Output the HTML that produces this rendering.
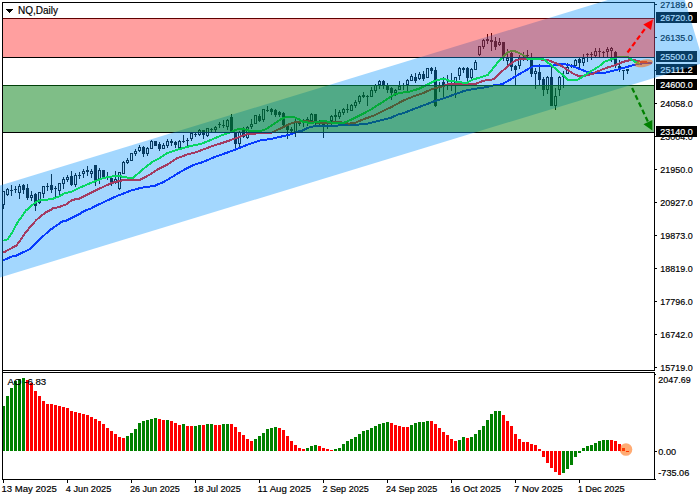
<!DOCTYPE html>
<html lang="en"><head><meta charset="utf-8"><title>NQ,Daily</title>
<style>html,body{margin:0;padding:0;background:#fff;overflow:hidden}svg{display:block}text{font-family:"Liberation Sans", Arial, sans-serif;white-space:pre}</style></head><body>
<svg width="700" height="500" viewBox="0 0 700 500">
<defs><clipPath id="cm"><rect x="3" y="3" width="651" height="367"/></clipPath></defs>
<rect x="0" y="0" width="700" height="500" fill="#fff"/>
<g shape-rendering="crispEdges">
<rect x="2" y="2" width="653" height="1" fill="#000"/>
<rect x="2" y="2" width="1" height="478" fill="#000"/>
<rect x="2" y="370" width="653" height="1" fill="#000"/>
<rect x="2" y="372" width="653" height="1" fill="#000"/>
<rect x="2" y="479" width="654" height="1" fill="#000"/>
<rect x="654" y="2" width="1" height="369" fill="#000"/>
<rect x="654" y="372" width="1" height="108" fill="#000"/>
<rect x="655" y="4" width="2" height="1" fill="#000"/>
<rect x="655" y="37" width="2" height="1" fill="#000"/>
<rect x="655" y="70" width="2" height="1" fill="#000"/>
<rect x="655" y="103" width="2" height="1" fill="#000"/>
<rect x="655" y="136" width="2" height="1" fill="#000"/>
<rect x="655" y="169" width="2" height="1" fill="#000"/>
<rect x="655" y="202" width="2" height="1" fill="#000"/>
<rect x="655" y="235" width="2" height="1" fill="#000"/>
<rect x="655" y="268" width="2" height="1" fill="#000"/>
<rect x="655" y="301" width="2" height="1" fill="#000"/>
<rect x="655" y="334" width="2" height="1" fill="#000"/>
<rect x="655" y="367" width="2" height="1" fill="#000"/>
<rect x="655" y="374" width="1" height="1" fill="#000"/>
<rect x="655" y="451" width="2" height="1" fill="#000"/>
<rect x="3" y="480" width="1" height="3" fill="#000"/>
<rect x="67" y="480" width="1" height="3" fill="#000"/>
<rect x="131" y="480" width="1" height="3" fill="#000"/>
<rect x="195" y="480" width="1" height="3" fill="#000"/>
<rect x="259" y="480" width="1" height="3" fill="#000"/>
<rect x="323" y="480" width="1" height="3" fill="#000"/>
<rect x="387" y="480" width="1" height="3" fill="#000"/>
<rect x="451" y="480" width="1" height="3" fill="#000"/>
<rect x="515" y="480" width="1" height="3" fill="#000"/>
<rect x="579" y="480" width="1" height="3" fill="#000"/>
</g>
<g shape-rendering="crispEdges" clip-path="url(#cm)">
<rect x="3" y="191" width="1" height="18" fill="#000"/>
<rect x="2" y="191" width="3" height="14" fill="#000"/>
<rect x="3" y="192" width="1" height="12" fill="#fff"/>
<rect x="7" y="188" width="1" height="8" fill="#000"/>
<rect x="6" y="189" width="3" height="6" fill="#000"/>
<rect x="7" y="190" width="1" height="4" fill="#fff"/>
<rect x="11" y="185" width="1" height="11" fill="#000"/>
<rect x="10" y="190" width="3" height="1" fill="#000"/>
<rect x="15" y="186" width="1" height="7" fill="#000"/>
<rect x="14" y="189" width="3" height="1" fill="#000"/>
<rect x="19" y="184" width="1" height="15" fill="#000"/>
<rect x="18" y="186" width="3" height="7" fill="#000"/>
<rect x="19" y="187" width="1" height="5" fill="#fff"/>
<rect x="23" y="184" width="1" height="10" fill="#000"/>
<rect x="22" y="185" width="3" height="5" fill="#000"/>
<rect x="27" y="184" width="1" height="16" fill="#000"/>
<rect x="26" y="188" width="3" height="10" fill="#000"/>
<rect x="31" y="191" width="1" height="10" fill="#000"/>
<rect x="30" y="195" width="3" height="3" fill="#000"/>
<rect x="31" y="196" width="1" height="1" fill="#fff"/>
<rect x="35" y="193" width="1" height="18" fill="#000"/>
<rect x="34" y="194" width="3" height="12" fill="#000"/>
<rect x="39" y="192" width="1" height="12" fill="#000"/>
<rect x="38" y="192" width="3" height="11" fill="#000"/>
<rect x="39" y="193" width="1" height="9" fill="#fff"/>
<rect x="43" y="186" width="1" height="12" fill="#000"/>
<rect x="42" y="186" width="3" height="8" fill="#000"/>
<rect x="43" y="187" width="1" height="6" fill="#fff"/>
<rect x="47" y="183" width="1" height="8" fill="#000"/>
<rect x="46" y="186" width="3" height="1" fill="#000"/>
<rect x="51" y="174" width="1" height="19" fill="#000"/>
<rect x="50" y="185" width="3" height="5" fill="#000"/>
<rect x="55" y="186" width="1" height="11" fill="#000"/>
<rect x="54" y="188" width="3" height="1" fill="#000"/>
<rect x="59" y="183" width="1" height="12" fill="#000"/>
<rect x="58" y="183" width="3" height="8" fill="#000"/>
<rect x="59" y="184" width="1" height="6" fill="#fff"/>
<rect x="63" y="177" width="1" height="12" fill="#000"/>
<rect x="62" y="179" width="3" height="5" fill="#000"/>
<rect x="63" y="180" width="1" height="3" fill="#fff"/>
<rect x="67" y="175" width="1" height="7" fill="#000"/>
<rect x="66" y="177" width="3" height="3" fill="#000"/>
<rect x="67" y="178" width="1" height="1" fill="#fff"/>
<rect x="71" y="171" width="1" height="15" fill="#000"/>
<rect x="70" y="176" width="3" height="9" fill="#000"/>
<rect x="75" y="173" width="1" height="14" fill="#000"/>
<rect x="74" y="175" width="3" height="10" fill="#000"/>
<rect x="75" y="176" width="1" height="8" fill="#fff"/>
<rect x="79" y="172" width="1" height="7" fill="#000"/>
<rect x="78" y="175" width="3" height="1" fill="#000"/>
<rect x="83" y="169" width="1" height="9" fill="#000"/>
<rect x="82" y="171" width="3" height="3" fill="#000"/>
<rect x="83" y="172" width="1" height="1" fill="#fff"/>
<rect x="87" y="166" width="1" height="10" fill="#000"/>
<rect x="86" y="170" width="3" height="2" fill="#000"/>
<rect x="91" y="169" width="1" height="9" fill="#000"/>
<rect x="90" y="171" width="3" height="3" fill="#000"/>
<rect x="91" y="172" width="1" height="1" fill="#fff"/>
<rect x="95" y="165" width="1" height="21" fill="#000"/>
<rect x="94" y="165" width="3" height="15" fill="#000"/>
<rect x="99" y="168" width="1" height="16" fill="#000"/>
<rect x="98" y="170" width="3" height="9" fill="#000"/>
<rect x="99" y="171" width="1" height="7" fill="#fff"/>
<rect x="103" y="170" width="1" height="8" fill="#000"/>
<rect x="102" y="170" width="3" height="7" fill="#000"/>
<rect x="107" y="172" width="1" height="8" fill="#000"/>
<rect x="106" y="176" width="3" height="1" fill="#000"/>
<rect x="111" y="178" width="1" height="8" fill="#000"/>
<rect x="110" y="178" width="3" height="5" fill="#000"/>
<rect x="115" y="171" width="1" height="13" fill="#000"/>
<rect x="114" y="179" width="3" height="3" fill="#000"/>
<rect x="115" y="180" width="1" height="1" fill="#fff"/>
<rect x="119" y="172" width="1" height="18" fill="#000"/>
<rect x="118" y="172" width="3" height="17" fill="#000"/>
<rect x="119" y="173" width="1" height="15" fill="#fff"/>
<rect x="123" y="161" width="1" height="13" fill="#000"/>
<rect x="122" y="162" width="3" height="12" fill="#000"/>
<rect x="123" y="163" width="1" height="10" fill="#fff"/>
<rect x="127" y="158" width="1" height="6" fill="#000"/>
<rect x="126" y="160" width="3" height="3" fill="#000"/>
<rect x="127" y="161" width="1" height="1" fill="#fff"/>
<rect x="131" y="153" width="1" height="8" fill="#000"/>
<rect x="130" y="153" width="3" height="8" fill="#000"/>
<rect x="131" y="154" width="1" height="6" fill="#fff"/>
<rect x="135" y="149" width="1" height="7" fill="#000"/>
<rect x="134" y="151" width="3" height="3" fill="#000"/>
<rect x="135" y="152" width="1" height="1" fill="#fff"/>
<rect x="139" y="145" width="1" height="7" fill="#000"/>
<rect x="138" y="147" width="3" height="4" fill="#000"/>
<rect x="139" y="148" width="1" height="2" fill="#fff"/>
<rect x="143" y="146" width="1" height="11" fill="#000"/>
<rect x="142" y="147" width="3" height="7" fill="#000"/>
<rect x="147" y="147" width="1" height="9" fill="#000"/>
<rect x="146" y="148" width="3" height="6" fill="#000"/>
<rect x="147" y="149" width="1" height="4" fill="#fff"/>
<rect x="151" y="140" width="1" height="9" fill="#000"/>
<rect x="150" y="141" width="3" height="8" fill="#000"/>
<rect x="151" y="142" width="1" height="6" fill="#fff"/>
<rect x="155" y="141" width="1" height="5" fill="#000"/>
<rect x="154" y="141" width="3" height="5" fill="#000"/>
<rect x="159" y="142" width="1" height="9" fill="#000"/>
<rect x="158" y="144" width="3" height="5" fill="#000"/>
<rect x="163" y="143" width="1" height="6" fill="#000"/>
<rect x="162" y="145" width="3" height="4" fill="#000"/>
<rect x="163" y="146" width="1" height="2" fill="#fff"/>
<rect x="167" y="139" width="1" height="9" fill="#000"/>
<rect x="166" y="141" width="3" height="5" fill="#000"/>
<rect x="167" y="142" width="1" height="3" fill="#fff"/>
<rect x="171" y="139" width="1" height="7" fill="#000"/>
<rect x="170" y="141" width="3" height="2" fill="#000"/>
<rect x="175" y="141" width="1" height="7" fill="#000"/>
<rect x="174" y="142" width="3" height="3" fill="#000"/>
<rect x="179" y="140" width="1" height="9" fill="#000"/>
<rect x="178" y="141" width="3" height="7" fill="#000"/>
<rect x="179" y="142" width="1" height="5" fill="#fff"/>
<rect x="183" y="135" width="1" height="8" fill="#000"/>
<rect x="182" y="141" width="3" height="1" fill="#000"/>
<rect x="187" y="138" width="1" height="8" fill="#000"/>
<rect x="186" y="140" width="3" height="1" fill="#000"/>
<rect x="191" y="133" width="1" height="8" fill="#000"/>
<rect x="190" y="133" width="3" height="6" fill="#000"/>
<rect x="191" y="134" width="1" height="4" fill="#fff"/>
<rect x="195" y="133" width="1" height="4" fill="#000"/>
<rect x="194" y="134" width="3" height="1" fill="#000"/>
<rect x="199" y="129" width="1" height="7" fill="#000"/>
<rect x="198" y="130" width="3" height="5" fill="#000"/>
<rect x="199" y="131" width="1" height="3" fill="#fff"/>
<rect x="203" y="130" width="1" height="9" fill="#000"/>
<rect x="202" y="130" width="3" height="5" fill="#000"/>
<rect x="207" y="128" width="1" height="9" fill="#000"/>
<rect x="206" y="128" width="3" height="8" fill="#000"/>
<rect x="207" y="129" width="1" height="6" fill="#fff"/>
<rect x="211" y="128" width="1" height="4" fill="#000"/>
<rect x="210" y="129" width="3" height="1" fill="#000"/>
<rect x="215" y="126" width="1" height="6" fill="#000"/>
<rect x="214" y="127" width="3" height="3" fill="#000"/>
<rect x="215" y="128" width="1" height="1" fill="#fff"/>
<rect x="219" y="122" width="1" height="6" fill="#000"/>
<rect x="218" y="124" width="3" height="1" fill="#000"/>
<rect x="223" y="120" width="1" height="8" fill="#000"/>
<rect x="222" y="125" width="3" height="1" fill="#000"/>
<rect x="227" y="119" width="1" height="11" fill="#000"/>
<rect x="226" y="120" width="3" height="7" fill="#000"/>
<rect x="227" y="121" width="1" height="5" fill="#fff"/>
<rect x="231" y="114" width="1" height="17" fill="#000"/>
<rect x="230" y="117" width="3" height="14" fill="#000"/>
<rect x="235" y="132" width="1" height="16" fill="#000"/>
<rect x="234" y="132" width="3" height="12" fill="#000"/>
<rect x="239" y="131" width="1" height="16" fill="#000"/>
<rect x="238" y="132" width="3" height="12" fill="#000"/>
<rect x="239" y="133" width="1" height="10" fill="#fff"/>
<rect x="243" y="127" width="1" height="11" fill="#000"/>
<rect x="242" y="129" width="3" height="8" fill="#000"/>
<rect x="247" y="126" width="1" height="13" fill="#000"/>
<rect x="246" y="127" width="3" height="11" fill="#000"/>
<rect x="247" y="128" width="1" height="9" fill="#fff"/>
<rect x="251" y="119" width="1" height="10" fill="#000"/>
<rect x="250" y="124" width="3" height="3" fill="#000"/>
<rect x="251" y="125" width="1" height="1" fill="#fff"/>
<rect x="255" y="115" width="1" height="9" fill="#000"/>
<rect x="254" y="115" width="3" height="9" fill="#000"/>
<rect x="255" y="116" width="1" height="7" fill="#fff"/>
<rect x="259" y="114" width="1" height="8" fill="#000"/>
<rect x="258" y="116" width="3" height="5" fill="#000"/>
<rect x="263" y="109" width="1" height="13" fill="#000"/>
<rect x="262" y="109" width="3" height="11" fill="#000"/>
<rect x="263" y="110" width="1" height="9" fill="#fff"/>
<rect x="267" y="106" width="1" height="6" fill="#000"/>
<rect x="266" y="110" width="3" height="1" fill="#000"/>
<rect x="271" y="108" width="1" height="7" fill="#000"/>
<rect x="270" y="109" width="3" height="3" fill="#000"/>
<rect x="275" y="109" width="1" height="8" fill="#000"/>
<rect x="274" y="110" width="3" height="5" fill="#000"/>
<rect x="279" y="111" width="1" height="6" fill="#000"/>
<rect x="278" y="112" width="3" height="3" fill="#000"/>
<rect x="283" y="112" width="1" height="14" fill="#000"/>
<rect x="282" y="113" width="3" height="12" fill="#000"/>
<rect x="287" y="124" width="1" height="15" fill="#000"/>
<rect x="286" y="126" width="3" height="4" fill="#000"/>
<rect x="291" y="127" width="1" height="5" fill="#000"/>
<rect x="290" y="129" width="3" height="2" fill="#000"/>
<rect x="295" y="119" width="1" height="18" fill="#000"/>
<rect x="294" y="121" width="3" height="11" fill="#000"/>
<rect x="295" y="122" width="1" height="9" fill="#fff"/>
<rect x="299" y="121" width="1" height="5" fill="#000"/>
<rect x="298" y="122" width="3" height="2" fill="#000"/>
<rect x="303" y="119" width="1" height="8" fill="#000"/>
<rect x="302" y="120" width="3" height="2" fill="#000"/>
<rect x="307" y="117" width="1" height="9" fill="#000"/>
<rect x="306" y="119" width="3" height="2" fill="#000"/>
<rect x="311" y="113" width="1" height="9" fill="#000"/>
<rect x="310" y="114" width="3" height="7" fill="#000"/>
<rect x="311" y="115" width="1" height="5" fill="#fff"/>
<rect x="315" y="114" width="1" height="12" fill="#000"/>
<rect x="314" y="114" width="3" height="8" fill="#000"/>
<rect x="319" y="120" width="1" height="6" fill="#000"/>
<rect x="318" y="123" width="3" height="1" fill="#000"/>
<rect x="323" y="122" width="1" height="16" fill="#000"/>
<rect x="322" y="123" width="3" height="3" fill="#000"/>
<rect x="327" y="122" width="1" height="7" fill="#000"/>
<rect x="326" y="123" width="3" height="1" fill="#000"/>
<rect x="331" y="115" width="1" height="11" fill="#000"/>
<rect x="330" y="116" width="3" height="5" fill="#000"/>
<rect x="331" y="117" width="1" height="3" fill="#fff"/>
<rect x="335" y="109" width="1" height="12" fill="#000"/>
<rect x="334" y="115" width="3" height="2" fill="#000"/>
<rect x="339" y="110" width="1" height="9" fill="#000"/>
<rect x="338" y="112" width="3" height="5" fill="#000"/>
<rect x="339" y="113" width="1" height="3" fill="#fff"/>
<rect x="343" y="108" width="1" height="7" fill="#000"/>
<rect x="342" y="109" width="3" height="4" fill="#000"/>
<rect x="343" y="110" width="1" height="2" fill="#fff"/>
<rect x="347" y="104" width="1" height="9" fill="#000"/>
<rect x="346" y="109" width="3" height="1" fill="#000"/>
<rect x="351" y="104" width="1" height="7" fill="#000"/>
<rect x="350" y="105" width="3" height="6" fill="#000"/>
<rect x="351" y="106" width="1" height="4" fill="#fff"/>
<rect x="355" y="100" width="1" height="8" fill="#000"/>
<rect x="354" y="102" width="3" height="4" fill="#000"/>
<rect x="355" y="103" width="1" height="2" fill="#fff"/>
<rect x="359" y="95" width="1" height="9" fill="#000"/>
<rect x="358" y="96" width="3" height="6" fill="#000"/>
<rect x="359" y="97" width="1" height="4" fill="#fff"/>
<rect x="363" y="92" width="1" height="6" fill="#000"/>
<rect x="362" y="95" width="3" height="2" fill="#000"/>
<rect x="367" y="95" width="1" height="11" fill="#000"/>
<rect x="366" y="96" width="3" height="1" fill="#000"/>
<rect x="371" y="87" width="1" height="10" fill="#000"/>
<rect x="370" y="90" width="3" height="7" fill="#000"/>
<rect x="371" y="91" width="1" height="5" fill="#fff"/>
<rect x="375" y="84" width="1" height="9" fill="#000"/>
<rect x="374" y="85" width="3" height="6" fill="#000"/>
<rect x="375" y="86" width="1" height="4" fill="#fff"/>
<rect x="379" y="80" width="1" height="9" fill="#000"/>
<rect x="378" y="81" width="3" height="4" fill="#000"/>
<rect x="379" y="82" width="1" height="2" fill="#fff"/>
<rect x="383" y="80" width="1" height="9" fill="#000"/>
<rect x="382" y="81" width="3" height="4" fill="#000"/>
<rect x="387" y="83" width="1" height="10" fill="#000"/>
<rect x="386" y="85" width="3" height="5" fill="#000"/>
<rect x="391" y="87" width="1" height="13" fill="#000"/>
<rect x="390" y="88" width="3" height="5" fill="#000"/>
<rect x="395" y="89" width="1" height="7" fill="#000"/>
<rect x="394" y="90" width="3" height="3" fill="#000"/>
<rect x="395" y="91" width="1" height="1" fill="#fff"/>
<rect x="399" y="81" width="1" height="9" fill="#000"/>
<rect x="398" y="86" width="3" height="4" fill="#000"/>
<rect x="399" y="87" width="1" height="2" fill="#fff"/>
<rect x="403" y="83" width="1" height="7" fill="#000"/>
<rect x="402" y="85" width="3" height="1" fill="#000"/>
<rect x="407" y="79" width="1" height="13" fill="#000"/>
<rect x="406" y="80" width="3" height="5" fill="#000"/>
<rect x="407" y="81" width="1" height="3" fill="#fff"/>
<rect x="411" y="74" width="1" height="7" fill="#000"/>
<rect x="410" y="76" width="3" height="5" fill="#000"/>
<rect x="411" y="77" width="1" height="3" fill="#fff"/>
<rect x="415" y="73" width="1" height="10" fill="#000"/>
<rect x="414" y="77" width="3" height="4" fill="#000"/>
<rect x="419" y="72" width="1" height="8" fill="#000"/>
<rect x="418" y="74" width="3" height="5" fill="#000"/>
<rect x="419" y="75" width="1" height="3" fill="#fff"/>
<rect x="423" y="71" width="1" height="10" fill="#000"/>
<rect x="422" y="74" width="3" height="5" fill="#000"/>
<rect x="479" y="46" width="1" height="10" fill="#000"/>
<rect x="478" y="46" width="3" height="9" fill="#000"/>
<rect x="479" y="47" width="1" height="7" fill="#fff"/>
<rect x="483" y="39" width="1" height="10" fill="#000"/>
<rect x="482" y="40" width="3" height="7" fill="#000"/>
<rect x="483" y="41" width="1" height="5" fill="#fff"/>
<rect x="487" y="34" width="1" height="10" fill="#000"/>
<rect x="486" y="39" width="3" height="2" fill="#000"/>
<rect x="491" y="33" width="1" height="18" fill="#000"/>
<rect x="490" y="40" width="3" height="2" fill="#000"/>
<rect x="495" y="37" width="1" height="13" fill="#000"/>
<rect x="494" y="41" width="3" height="6" fill="#000"/>
<rect x="499" y="38" width="1" height="8" fill="#000"/>
<rect x="498" y="42" width="3" height="3" fill="#000"/>
<rect x="499" y="43" width="1" height="1" fill="#fff"/>
<rect x="427" y="68" width="1" height="10" fill="#000"/>
<rect x="426" y="68" width="3" height="10" fill="#000"/>
<rect x="427" y="69" width="1" height="8" fill="#fff"/>
<rect x="431" y="67" width="1" height="7" fill="#000"/>
<rect x="430" y="68" width="3" height="3" fill="#000"/>
<rect x="435" y="67" width="1" height="40" fill="#000"/>
<rect x="434" y="70" width="3" height="36" fill="#000"/>
<rect x="439" y="82" width="1" height="10" fill="#000"/>
<rect x="443" y="77" width="1" height="20" fill="#000"/>
<rect x="442" y="82" width="3" height="3" fill="#000"/>
<rect x="447" y="75" width="1" height="15" fill="#000"/>
<rect x="451" y="73" width="1" height="18" fill="#000"/>
<rect x="455" y="77" width="1" height="21" fill="#000"/>
<rect x="454" y="77" width="3" height="7" fill="#000"/>
<rect x="455" y="78" width="1" height="5" fill="#fff"/>
<rect x="459" y="67" width="1" height="13" fill="#000"/>
<rect x="458" y="68" width="3" height="8" fill="#000"/>
<rect x="459" y="69" width="1" height="6" fill="#fff"/>
<rect x="463" y="67" width="1" height="6" fill="#000"/>
<rect x="462" y="68" width="3" height="2" fill="#000"/>
<rect x="467" y="67" width="1" height="15" fill="#000"/>
<rect x="466" y="68" width="3" height="10" fill="#000"/>
<rect x="471" y="68" width="1" height="12" fill="#000"/>
<rect x="470" y="69" width="3" height="9" fill="#000"/>
<rect x="471" y="70" width="1" height="7" fill="#fff"/>
<rect x="475" y="60" width="1" height="10" fill="#000"/>
<rect x="474" y="62" width="3" height="8" fill="#000"/>
<rect x="475" y="63" width="1" height="6" fill="#fff"/>
<rect x="503" y="42" width="1" height="19" fill="#000"/>
<rect x="502" y="42" width="3" height="16" fill="#000"/>
<rect x="507" y="49" width="1" height="16" fill="#000"/>
<rect x="506" y="58" width="3" height="3" fill="#000"/>
<rect x="507" y="59" width="1" height="1" fill="#fff"/>
<rect x="511" y="52" width="1" height="19" fill="#000"/>
<rect x="510" y="53" width="3" height="14" fill="#000"/>
<rect x="515" y="65" width="1" height="21" fill="#000"/>
<rect x="514" y="66" width="3" height="4" fill="#000"/>
<rect x="519" y="55" width="1" height="14" fill="#000"/>
<rect x="518" y="58" width="3" height="8" fill="#000"/>
<rect x="519" y="59" width="1" height="6" fill="#fff"/>
<rect x="523" y="52" width="1" height="9" fill="#000"/>
<rect x="522" y="55" width="3" height="1" fill="#000"/>
<rect x="527" y="50" width="1" height="11" fill="#000"/>
<rect x="526" y="55" width="3" height="1" fill="#000"/>
<rect x="571" y="64" width="1" height="4" fill="#000"/>
<rect x="570" y="65" width="3" height="1" fill="#000"/>
<rect x="575" y="59" width="1" height="7" fill="#000"/>
<rect x="574" y="60" width="3" height="6" fill="#000"/>
<rect x="575" y="61" width="1" height="4" fill="#fff"/>
<rect x="579" y="58" width="1" height="10" fill="#000"/>
<rect x="578" y="59" width="3" height="4" fill="#000"/>
<rect x="583" y="54" width="1" height="12" fill="#000"/>
<rect x="582" y="58" width="3" height="5" fill="#000"/>
<rect x="583" y="59" width="1" height="3" fill="#fff"/>
<rect x="531" y="53" width="1" height="24" fill="#000"/>
<rect x="530" y="60" width="3" height="14" fill="#000"/>
<rect x="535" y="68" width="1" height="21" fill="#000"/>
<rect x="534" y="71" width="3" height="3" fill="#000"/>
<rect x="535" y="72" width="1" height="1" fill="#fff"/>
<rect x="539" y="64" width="1" height="21" fill="#000"/>
<rect x="538" y="72" width="3" height="8" fill="#000"/>
<rect x="543" y="77" width="1" height="19" fill="#000"/>
<rect x="542" y="79" width="3" height="11" fill="#000"/>
<rect x="547" y="76" width="1" height="18" fill="#000"/>
<rect x="546" y="77" width="3" height="13" fill="#000"/>
<rect x="547" y="78" width="1" height="11" fill="#fff"/>
<rect x="551" y="65" width="1" height="41" fill="#000"/>
<rect x="550" y="77" width="3" height="29" fill="#000"/>
<rect x="555" y="88" width="1" height="22" fill="#000"/>
<rect x="554" y="96" width="3" height="10" fill="#000"/>
<rect x="555" y="97" width="1" height="8" fill="#fff"/>
<rect x="559" y="76" width="1" height="20" fill="#000"/>
<rect x="558" y="77" width="3" height="13" fill="#000"/>
<rect x="559" y="78" width="1" height="11" fill="#fff"/>
<rect x="563" y="71" width="1" height="17" fill="#000"/>
<rect x="562" y="76" width="3" height="1" fill="#000"/>
<rect x="567" y="63" width="1" height="11" fill="#000"/>
<rect x="566" y="67" width="3" height="7" fill="#000"/>
<rect x="567" y="68" width="1" height="5" fill="#fff"/>
<rect x="587" y="53" width="1" height="9" fill="#000"/>
<rect x="586" y="54" width="3" height="1" fill="#000"/>
<rect x="591" y="52" width="1" height="8" fill="#000"/>
<rect x="590" y="54" width="3" height="1" fill="#000"/>
<rect x="595" y="48" width="1" height="9" fill="#000"/>
<rect x="594" y="51" width="3" height="5" fill="#000"/>
<rect x="595" y="52" width="1" height="3" fill="#fff"/>
<rect x="599" y="48" width="1" height="9" fill="#000"/>
<rect x="598" y="51" width="3" height="1" fill="#000"/>
<rect x="603" y="51" width="1" height="6" fill="#000"/>
<rect x="602" y="52" width="3" height="1" fill="#000"/>
<rect x="607" y="47" width="1" height="10" fill="#000"/>
<rect x="606" y="49" width="3" height="3" fill="#000"/>
<rect x="607" y="50" width="1" height="1" fill="#fff"/>
<rect x="611" y="47" width="1" height="15" fill="#000"/>
<rect x="610" y="48" width="3" height="3" fill="#000"/>
<rect x="611" y="49" width="1" height="1" fill="#fff"/>
<rect x="615" y="51" width="1" height="17" fill="#000"/>
<rect x="614" y="52" width="3" height="12" fill="#000"/>
<rect x="619" y="60" width="1" height="12" fill="#000"/>
<rect x="618" y="66" width="3" height="4" fill="#000"/>
<rect x="623" y="70" width="1" height="10" fill="#000"/>
<rect x="622" y="70" width="3" height="1" fill="#000"/>
<rect x="627" y="69" width="1" height="5" fill="#000"/>
<rect x="626" y="69" width="3" height="2" fill="#000"/>
</g>
<g clip-path="url(#cm)" shape-rendering="crispEdges">
<polyline points="3.4,260.3 12.0,256.4 16.3,255.7 30.6,248.6 39.1,240.0 49.1,230.7 63.4,220.7 66.3,220.7 73.4,217.1 79.1,214.3 83.4,211.4 84.9,210.7 90.6,208.6 96.3,205.7 102.0,202.9 117.0,196.0 130.6,190.7 140.6,187.9 154.9,185.7 163.4,182.1 170.6,177.9 176.3,174.3 184.9,169.3 193.4,165.0 202.0,162.4 216.3,156.4 230.6,151.4 244.9,145.7 259.1,140.7 270.6,139.0 282.0,136.4 290.6,134.3 296.3,131.9 302.0,130.7 307.7,127.9 313.4,126.4 330.6,126.0 344.9,125.0 364.9,124.3 373.4,122.1 382.0,120.0 390.6,117.9 399.1,114.0 402.0,113.6 434.9,101.0 444.9,97.9 454.9,94.3 464.9,90.7 476.3,88.6 486.3,87.1 494.9,85.0 502.0,84.3 510.6,79.3 519.1,74.3 527.7,69.3 533.4,66.4 550.6,66.1 562.0,63.6 573.4,66.4 582.0,70.0 586.0,71.5 590.6,72.9 599.0,73.5 606.0,72.5 616.0,70.0 626.0,67.2 634.0,65.0 638.0,64.0 644.0,63.2 651.8,62.8" fill="none" stroke="#0000ff" stroke-width="2" stroke-linejoin="round" stroke-linecap="butt"/>
<polyline points="3.4,252.6 10.6,248.6 16.3,245.7 20.6,240.0 24.9,233.6 30.6,226.4 36.3,220.0 44.9,212.9 44.9,212.9 50.6,210.0 52.0,208.6 59.1,207.1 66.3,204.3 72.0,200.0 79.1,198.6 87.7,194.3 94.9,190.7 102.0,187.4 112.0,182.9 123.4,180.0 140.6,179.6 149.1,175.0 159.1,168.6 167.7,164.3 176.3,158.6 187.7,154.3 196.3,152.1 202.0,150.0 213.4,145.7 224.9,142.1 234.9,138.6 243.4,135.4 249.1,133.6 270.6,133.3 276.3,130.4 283.4,127.1 289.1,124.3 294.9,122.1 302.0,121.4 309.1,121.4 319.1,123.1 330.6,122.6 339.1,122.1 349.1,123.6 354.9,122.9 363.4,119.3 373.4,115.7 382.0,111.4 390.6,107.4 397.7,103.6 402.0,101.1 413.4,96.4 423.4,92.9 433.4,88.6 442.0,86.4 449.1,84.0 466.3,84.3 476.3,83.6 483.4,80.7 493.4,79.3 499.1,74.3 502.0,71.4 509.1,65.0 516.3,60.0 522.0,59.0 530.6,59.3 546.3,59.6 556.3,63.3 564.9,67.9 572.0,72.9 577.7,75.7 584.9,75.7 593.4,73.6 596.0,72.0 606.0,68.0 614.0,65.5 620.0,63.0 626.0,61.0 631.0,60.0 636.0,60.5 642.0,62.0 647.5,62.6" fill="none" stroke="#ff0000" stroke-width="2" stroke-linejoin="round" stroke-linecap="butt"/>
<polyline points="3.4,240.7 7.7,239.3 12.0,232.9 17.7,222.1 23.4,214.3 26.3,210.0 27.0,210.0 35.6,202.1 40.6,200.0 51.3,199.3 59.1,196.4 64.9,192.9 70.6,192.1 79.1,187.9 87.7,184.3 94.9,181.4 102.0,178.6 109.1,176.7 119.1,176.1 127.7,177.6 133.4,177.6 142.0,170.0 152.0,162.1 159.1,158.6 166.3,153.6 176.3,150.0 187.7,146.7 202.0,143.6 210.6,140.0 220.6,135.7 230.6,132.4 236.3,129.6 242.0,128.7 249.1,130.7 259.1,131.4 266.3,129.0 273.4,124.3 280.6,119.3 286.3,117.1 293.4,116.9 299.1,119.3 302.0,121.4 310.6,123.1 317.7,121.7 324.9,121.1 333.4,123.1 343.4,122.9 352.0,119.3 362.0,114.3 370.6,109.7 379.1,104.3 387.7,98.6 394.9,94.3 402.0,92.6 410.6,91.4 419.1,88.6 427.7,84.3 434.9,80.7 443.4,78.6 449.1,80.7 459.1,82.1 466.3,83.1 473.4,79.3 480.6,77.4 487.7,75.0 493.4,67.9 499.1,60.7 502.0,58.6 507.7,52.1 513.4,50.7 519.1,52.9 524.9,56.1 527.7,59.0 543.4,59.0 549.1,63.6 556.3,69.3 562.0,74.3 567.7,80.0 576.3,80.4 582.0,77.1 590.6,71.4 599.1,66.4 604.0,62.0 612.0,59.0 619.0,56.8 627.0,56.8 631.0,59.0 635.0,62.0 640.0,63.8" fill="none" stroke="#00ff00" stroke-width="2" stroke-linejoin="round" stroke-linecap="butt"/>
</g>
<g shape-rendering="crispEdges">
<rect x="3" y="18" width="651" height="1" fill="#000"/>
<rect x="3" y="57" width="651" height="1" fill="#000"/>
<rect x="3" y="85" width="651" height="1" fill="#000"/>
<rect x="3" y="132" width="651" height="1" fill="#000"/>
</g>
<path d="M6 9h7v1h-1v1h-1v1h-1v1h-1v-1h-1v-1h-1v-1h-1z" fill="#000" shape-rendering="crispEdges"/>
<text x="18" y="14.4" font-size="10" fill="#000" stroke="#000" stroke-width="0.18" textLength="40" lengthAdjust="spacingAndGlyphs">NQ,Daily</text>
<text x="660.3" y="8" font-size="9.5" fill="#000" stroke="#000" stroke-width="0.18" textLength="32.4" lengthAdjust="spacingAndGlyphs">27189.0</text>
<text x="660.3" y="41" font-size="9.5" fill="#000" stroke="#000" stroke-width="0.18" textLength="32.4" lengthAdjust="spacingAndGlyphs">26135.0</text>
<text x="660.3" y="74" font-size="9.5" fill="#000" stroke="#000" stroke-width="0.18" textLength="32.4" lengthAdjust="spacingAndGlyphs">25081.0</text>
<text x="660.3" y="107" font-size="9.5" fill="#000" stroke="#000" stroke-width="0.18" textLength="32.4" lengthAdjust="spacingAndGlyphs">24058.0</text>
<text x="660.3" y="140" font-size="9.5" fill="#000" stroke="#000" stroke-width="0.18" textLength="32.4" lengthAdjust="spacingAndGlyphs">23004.0</text>
<text x="660.3" y="173" font-size="9.5" fill="#000" stroke="#000" stroke-width="0.18" textLength="32.4" lengthAdjust="spacingAndGlyphs">21950.0</text>
<text x="660.3" y="206" font-size="9.5" fill="#000" stroke="#000" stroke-width="0.18" textLength="32.4" lengthAdjust="spacingAndGlyphs">20927.0</text>
<text x="660.3" y="239" font-size="9.5" fill="#000" stroke="#000" stroke-width="0.18" textLength="32.4" lengthAdjust="spacingAndGlyphs">19873.0</text>
<text x="660.3" y="272" font-size="9.5" fill="#000" stroke="#000" stroke-width="0.18" textLength="32.4" lengthAdjust="spacingAndGlyphs">18819.0</text>
<text x="660.3" y="305" font-size="9.5" fill="#000" stroke="#000" stroke-width="0.18" textLength="32.4" lengthAdjust="spacingAndGlyphs">17796.0</text>
<text x="660.3" y="338" font-size="9.5" fill="#000" stroke="#000" stroke-width="0.18" textLength="32.4" lengthAdjust="spacingAndGlyphs">16742.0</text>
<text x="660.3" y="371" font-size="9.5" fill="#000" stroke="#000" stroke-width="0.18" textLength="32.4" lengthAdjust="spacingAndGlyphs">15719.0</text>
<text x="658.3" y="383" font-size="9.5" fill="#000" stroke="#000" stroke-width="0.18" textLength="32.4" lengthAdjust="spacingAndGlyphs">2047.69</text>
<text x="658.3" y="455" font-size="9.5" fill="#000" stroke="#000" stroke-width="0.18" textLength="17.7" lengthAdjust="spacingAndGlyphs">0.00</text>
<text x="658.3" y="476" font-size="9.5" fill="#000" stroke="#000" stroke-width="0.18" textLength="31" lengthAdjust="spacingAndGlyphs">-735.06</text>
<text x="1.5" y="492" font-size="9.5" fill="#000" stroke="#000" stroke-width="0.18" textLength="55.3" lengthAdjust="spacingAndGlyphs">13 May 2025</text>
<text x="65.7" y="492" font-size="9.5" fill="#000" stroke="#000" stroke-width="0.18" textLength="45.7" lengthAdjust="spacingAndGlyphs">4 Jun 2025</text>
<text x="129.9" y="492" font-size="9.5" fill="#000" stroke="#000" stroke-width="0.18" textLength="49.9" lengthAdjust="spacingAndGlyphs">26 Jun 2025</text>
<text x="193.5" y="492" font-size="9.5" fill="#000" stroke="#000" stroke-width="0.18" textLength="47.3" lengthAdjust="spacingAndGlyphs">18 Jul 2025</text>
<text x="257.5" y="492" font-size="9.5" fill="#000" stroke="#000" stroke-width="0.18" textLength="53.5" lengthAdjust="spacingAndGlyphs">11 Aug 2025</text>
<text x="322.5" y="492" font-size="9.5" fill="#000" stroke="#000" stroke-width="0.18" textLength="46.3" lengthAdjust="spacingAndGlyphs">2 Sep 2025</text>
<text x="386.1" y="492" font-size="9.5" fill="#000" stroke="#000" stroke-width="0.18" textLength="51.1" lengthAdjust="spacingAndGlyphs">24 Sep 2025</text>
<text x="449.9" y="492" font-size="9.5" fill="#000" stroke="#000" stroke-width="0.18" textLength="51.1" lengthAdjust="spacingAndGlyphs">16 Oct 2025</text>
<text x="514.1" y="492" font-size="9.5" fill="#000" stroke="#000" stroke-width="0.18" textLength="48.7" lengthAdjust="spacingAndGlyphs">7 Nov 2025</text>
<text x="577.7" y="492" font-size="9.5" fill="#000" stroke="#000" stroke-width="0.18" textLength="46.9" lengthAdjust="spacingAndGlyphs">1 Dec 2025</text>
<rect x="656" y="12" width="41" height="11" fill="#000" shape-rendering="crispEdges"/>
<text x="660.3" y="21" font-size="9.5" fill="#fff" stroke="#fff" stroke-width="0.18" textLength="32.4" lengthAdjust="spacingAndGlyphs">26720.0</text>
<rect x="656" y="51" width="41" height="11" fill="#000" shape-rendering="crispEdges"/>
<text x="660.3" y="60" font-size="9.5" fill="#fff" stroke="#fff" stroke-width="0.18" textLength="32.4" lengthAdjust="spacingAndGlyphs">25500.0</text>
<rect x="656" y="64" width="41" height="11" fill="#000" shape-rendering="crispEdges"/>
<text x="660.3" y="73" font-size="9.5" fill="#fff" stroke="#fff" stroke-width="0.18" textLength="32.4" lengthAdjust="spacingAndGlyphs">25111.2</text>
<rect x="656" y="79" width="41" height="11" fill="#000" shape-rendering="crispEdges"/>
<text x="660.3" y="88" font-size="9.5" fill="#fff" stroke="#fff" stroke-width="0.18" textLength="32.4" lengthAdjust="spacingAndGlyphs">24600.0</text>
<rect x="656" y="126" width="41" height="11" fill="#000" shape-rendering="crispEdges"/>
<text x="660.3" y="135" font-size="9.5" fill="#fff" stroke="#fff" stroke-width="0.18" textLength="32.4" lengthAdjust="spacingAndGlyphs">23140.0</text>
<g shape-rendering="crispEdges">
<rect x="3" y="406" width="2" height="45" fill="#008000"/>
<rect x="6" y="396" width="3" height="55" fill="#008000"/>
<rect x="10" y="388" width="3" height="63" fill="#008000"/>
<rect x="14" y="381" width="3" height="70" fill="#008000"/>
<rect x="18" y="379" width="3" height="72" fill="#008000"/>
<rect x="22" y="378" width="3" height="73" fill="#008000"/>
<rect x="26" y="380" width="3" height="71" fill="#ff0000"/>
<rect x="30" y="383" width="3" height="68" fill="#ff0000"/>
<rect x="34" y="391" width="3" height="60" fill="#ff0000"/>
<rect x="38" y="396" width="3" height="55" fill="#ff0000"/>
<rect x="42" y="401" width="3" height="50" fill="#ff0000"/>
<rect x="46" y="404" width="3" height="47" fill="#ff0000"/>
<rect x="50" y="404" width="3" height="47" fill="#ff0000"/>
<rect x="54" y="405" width="3" height="46" fill="#ff0000"/>
<rect x="58" y="406" width="3" height="45" fill="#ff0000"/>
<rect x="62" y="407" width="3" height="44" fill="#ff0000"/>
<rect x="66" y="408" width="3" height="43" fill="#ff0000"/>
<rect x="70" y="411" width="3" height="40" fill="#ff0000"/>
<rect x="74" y="412" width="3" height="39" fill="#ff0000"/>
<rect x="78" y="413" width="3" height="38" fill="#ff0000"/>
<rect x="82" y="414" width="3" height="37" fill="#ff0000"/>
<rect x="86" y="415" width="3" height="36" fill="#ff0000"/>
<rect x="90" y="417" width="3" height="34" fill="#ff0000"/>
<rect x="94" y="419" width="3" height="32" fill="#ff0000"/>
<rect x="98" y="421" width="3" height="30" fill="#ff0000"/>
<rect x="102" y="424" width="3" height="27" fill="#ff0000"/>
<rect x="106" y="428" width="3" height="23" fill="#ff0000"/>
<rect x="110" y="431" width="3" height="20" fill="#ff0000"/>
<rect x="114" y="434" width="3" height="17" fill="#ff0000"/>
<rect x="118" y="437" width="3" height="14" fill="#ff0000"/>
<rect x="122" y="438" width="3" height="13" fill="#ff0000"/>
<rect x="126" y="436" width="3" height="15" fill="#008000"/>
<rect x="130" y="433" width="3" height="18" fill="#008000"/>
<rect x="134" y="429" width="3" height="22" fill="#008000"/>
<rect x="138" y="423" width="3" height="28" fill="#008000"/>
<rect x="142" y="421" width="3" height="30" fill="#008000"/>
<rect x="146" y="420" width="3" height="31" fill="#008000"/>
<rect x="150" y="419" width="3" height="32" fill="#008000"/>
<rect x="154" y="418" width="3" height="33" fill="#008000"/>
<rect x="158" y="419" width="3" height="32" fill="#ff0000"/>
<rect x="162" y="420" width="3" height="31" fill="#ff0000"/>
<rect x="166" y="420" width="3" height="31" fill="#008000"/>
<rect x="170" y="421" width="3" height="30" fill="#ff0000"/>
<rect x="174" y="423" width="3" height="28" fill="#ff0000"/>
<rect x="178" y="425" width="3" height="26" fill="#ff0000"/>
<rect x="182" y="424" width="3" height="27" fill="#008000"/>
<rect x="186" y="426" width="3" height="25" fill="#ff0000"/>
<rect x="190" y="426" width="3" height="25" fill="#ff0000"/>
<rect x="194" y="426" width="3" height="25" fill="#008000"/>
<rect x="198" y="425" width="3" height="26" fill="#008000"/>
<rect x="202" y="425" width="3" height="26" fill="#ff0000"/>
<rect x="206" y="424" width="3" height="27" fill="#008000"/>
<rect x="210" y="424" width="3" height="27" fill="#008000"/>
<rect x="214" y="425" width="3" height="26" fill="#ff0000"/>
<rect x="218" y="425" width="3" height="26" fill="#ff0000"/>
<rect x="222" y="424" width="3" height="27" fill="#008000"/>
<rect x="226" y="424" width="3" height="27" fill="#008000"/>
<rect x="230" y="424" width="3" height="27" fill="#ff0000"/>
<rect x="234" y="427" width="3" height="24" fill="#ff0000"/>
<rect x="238" y="432" width="3" height="19" fill="#ff0000"/>
<rect x="242" y="435" width="3" height="16" fill="#ff0000"/>
<rect x="246" y="439" width="3" height="12" fill="#ff0000"/>
<rect x="250" y="441" width="3" height="10" fill="#ff0000"/>
<rect x="254" y="439" width="3" height="12" fill="#008000"/>
<rect x="258" y="436" width="3" height="15" fill="#008000"/>
<rect x="262" y="433" width="3" height="18" fill="#008000"/>
<rect x="266" y="429" width="3" height="22" fill="#008000"/>
<rect x="270" y="428" width="3" height="23" fill="#008000"/>
<rect x="274" y="427" width="3" height="24" fill="#008000"/>
<rect x="278" y="428" width="3" height="23" fill="#ff0000"/>
<rect x="282" y="430" width="3" height="21" fill="#ff0000"/>
<rect x="286" y="436" width="3" height="15" fill="#ff0000"/>
<rect x="290" y="441" width="3" height="10" fill="#ff0000"/>
<rect x="294" y="445" width="3" height="6" fill="#ff0000"/>
<rect x="298" y="448" width="3" height="3" fill="#ff0000"/>
<rect x="302" y="449" width="3" height="2" fill="#ff0000"/>
<rect x="306" y="448" width="3" height="3" fill="#008000"/>
<rect x="310" y="446" width="3" height="5" fill="#008000"/>
<rect x="314" y="445" width="3" height="6" fill="#008000"/>
<rect x="318" y="446" width="3" height="5" fill="#ff0000"/>
<rect x="322" y="448" width="3" height="3" fill="#ff0000"/>
<rect x="326" y="449" width="3" height="2" fill="#ff0000"/>
<rect x="330" y="450" width="3" height="1" fill="#ff0000"/>
<rect x="334" y="449" width="3" height="2" fill="#008000"/>
<rect x="338" y="448" width="3" height="3" fill="#008000"/>
<rect x="342" y="444" width="3" height="7" fill="#008000"/>
<rect x="346" y="441" width="3" height="10" fill="#008000"/>
<rect x="350" y="439" width="3" height="12" fill="#008000"/>
<rect x="354" y="437" width="3" height="14" fill="#008000"/>
<rect x="358" y="434" width="3" height="17" fill="#008000"/>
<rect x="362" y="431" width="3" height="20" fill="#008000"/>
<rect x="366" y="430" width="3" height="21" fill="#008000"/>
<rect x="370" y="428" width="3" height="23" fill="#008000"/>
<rect x="374" y="426" width="3" height="25" fill="#008000"/>
<rect x="378" y="424" width="3" height="27" fill="#008000"/>
<rect x="382" y="423" width="3" height="28" fill="#008000"/>
<rect x="386" y="422" width="3" height="29" fill="#008000"/>
<rect x="390" y="423" width="3" height="28" fill="#ff0000"/>
<rect x="394" y="425" width="3" height="26" fill="#ff0000"/>
<rect x="398" y="426" width="3" height="25" fill="#ff0000"/>
<rect x="402" y="427" width="3" height="24" fill="#ff0000"/>
<rect x="406" y="427" width="3" height="24" fill="#ff0000"/>
<rect x="410" y="425" width="3" height="26" fill="#008000"/>
<rect x="414" y="423" width="3" height="28" fill="#008000"/>
<rect x="418" y="422" width="3" height="29" fill="#008000"/>
<rect x="422" y="422" width="3" height="29" fill="#008000"/>
<rect x="426" y="421" width="3" height="30" fill="#008000"/>
<rect x="430" y="421" width="3" height="30" fill="#ff0000"/>
<rect x="434" y="424" width="3" height="27" fill="#ff0000"/>
<rect x="438" y="428" width="3" height="23" fill="#ff0000"/>
<rect x="442" y="432" width="3" height="19" fill="#ff0000"/>
<rect x="446" y="435" width="3" height="16" fill="#ff0000"/>
<rect x="450" y="439" width="3" height="12" fill="#ff0000"/>
<rect x="454" y="441" width="3" height="10" fill="#ff0000"/>
<rect x="458" y="440" width="3" height="11" fill="#008000"/>
<rect x="462" y="437" width="3" height="14" fill="#008000"/>
<rect x="466" y="438" width="3" height="13" fill="#ff0000"/>
<rect x="470" y="437" width="3" height="14" fill="#008000"/>
<rect x="474" y="434" width="3" height="17" fill="#008000"/>
<rect x="478" y="430" width="3" height="21" fill="#008000"/>
<rect x="482" y="426" width="3" height="25" fill="#008000"/>
<rect x="486" y="420" width="3" height="31" fill="#008000"/>
<rect x="490" y="414" width="3" height="37" fill="#008000"/>
<rect x="494" y="411" width="3" height="40" fill="#008000"/>
<rect x="498" y="411" width="3" height="40" fill="#008000"/>
<rect x="502" y="415" width="3" height="36" fill="#ff0000"/>
<rect x="506" y="421" width="3" height="30" fill="#ff0000"/>
<rect x="510" y="426" width="3" height="25" fill="#ff0000"/>
<rect x="514" y="434" width="3" height="17" fill="#ff0000"/>
<rect x="518" y="439" width="3" height="12" fill="#ff0000"/>
<rect x="522" y="442" width="3" height="9" fill="#ff0000"/>
<rect x="526" y="442" width="3" height="9" fill="#ff0000"/>
<rect x="530" y="444" width="3" height="7" fill="#ff0000"/>
<rect x="534" y="445" width="3" height="6" fill="#ff0000"/>
<rect x="538" y="449" width="3" height="2" fill="#ff0000"/>
<rect x="542" y="451" width="3" height="6" fill="#ff0000"/>
<rect x="546" y="451" width="3" height="12" fill="#ff0000"/>
<rect x="550" y="451" width="3" height="17" fill="#ff0000"/>
<rect x="554" y="451" width="3" height="21" fill="#ff0000"/>
<rect x="558" y="451" width="3" height="24" fill="#ff0000"/>
<rect x="562" y="451" width="3" height="22" fill="#008000"/>
<rect x="566" y="451" width="3" height="18" fill="#008000"/>
<rect x="570" y="451" width="3" height="14" fill="#008000"/>
<rect x="574" y="451" width="3" height="6" fill="#008000"/>
<rect x="578" y="451" width="3" height="2" fill="#008000"/>
<rect x="582" y="448" width="3" height="3" fill="#008000"/>
<rect x="586" y="446" width="3" height="5" fill="#008000"/>
<rect x="590" y="445" width="3" height="6" fill="#008000"/>
<rect x="594" y="443" width="3" height="8" fill="#008000"/>
<rect x="598" y="441" width="3" height="10" fill="#008000"/>
<rect x="602" y="440" width="3" height="11" fill="#008000"/>
<rect x="606" y="440" width="3" height="11" fill="#008000"/>
<rect x="610" y="440" width="3" height="11" fill="#ff0000"/>
<rect x="614" y="441" width="3" height="10" fill="#ff0000"/>
<rect x="618" y="444" width="3" height="7" fill="#ff0000"/>
<rect x="622" y="448" width="3" height="3" fill="#ff0000"/>
<rect x="626" y="451" width="3" height="1" fill="#ff0000"/>
</g>
<text x="7.6" y="384.7" font-size="9.5" fill="#000" stroke="#000" stroke-width="0.18" textLength="38.6" lengthAdjust="spacingAndGlyphs">AO -6.83</text>
<polygon points="-10.00,188.45 607.87,0.00 684.80,0.00 703.50,62.83 -10.00,280.45" fill="rgba(17,152,252,0.39)"/>
<rect x="3" y="18" width="652" height="39" fill="rgba(255,0,0,0.375)" shape-rendering="crispEdges"/>
<rect x="3" y="85" width="651" height="47" fill="rgba(0,126,16,0.5)" shape-rendering="crispEdges"/>
<line x1="627.5" y1="52.5" x2="646" y2="27.5" stroke="#ff0000" stroke-width="2.2" stroke-dasharray="5 3"/>
<polygon points="653,19.5 643.3,24.5 651,30" fill="#ff0000"/>
<line x1="632.1" y1="88" x2="648.1" y2="122" stroke="#008000" stroke-width="2.2" stroke-dasharray="5 3"/>
<polygon points="652.3,130.5 643.5,124.3 652.3,120" fill="#008000"/>
<ellipse cx="643.7" cy="63.3" rx="9.4" ry="3.7" transform="rotate(-10 643.7 63.3)" fill="rgba(255,102,0,0.55)"/>
<circle cx="626" cy="449.5" r="6.3" fill="rgba(255,102,0,0.55)"/>
</svg></body></html>
